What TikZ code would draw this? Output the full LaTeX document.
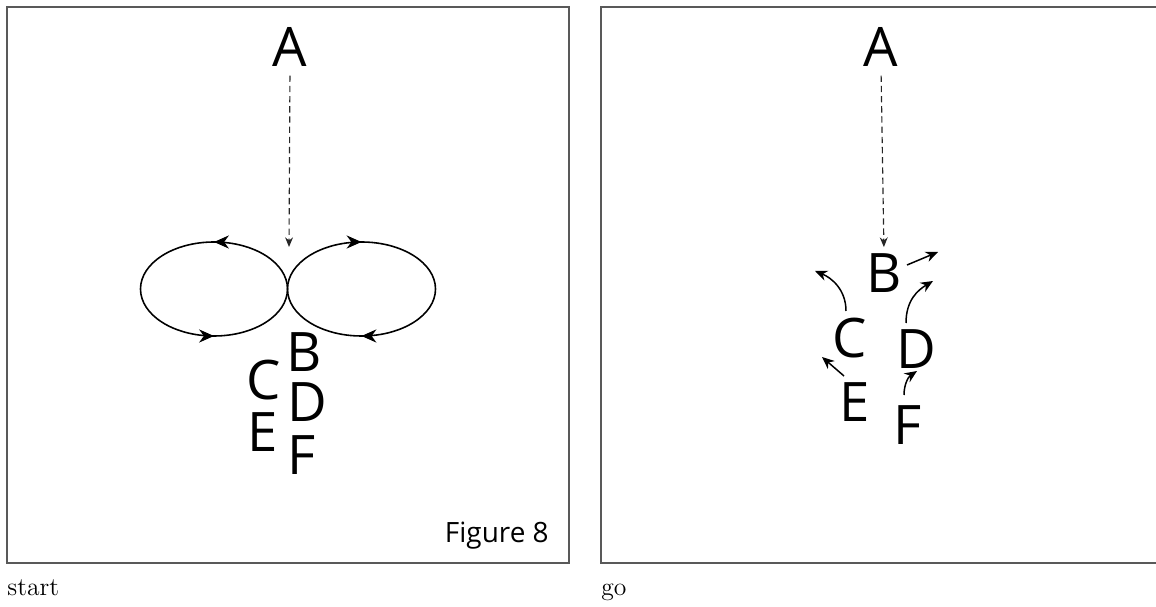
\documentclass[tikz,border=0pt]{standalone}
\usepackage{fontspec}
\newfontfamily\letterfont{Open Sans}
\usepackage{tikz}
\usetikzlibrary{arrows.meta, decorations.markings}

\begin{document}
\begin{tikzpicture}[x=0.02cm, y=-0.02cm,
    letter/.style={inner sep=0pt, font=\letterfont\fontsize{31}{31}\selectfont},
    panel/.style={draw=black!65, line width=1pt},
    droparrow/.style={-{Stealth[length=5.5pt, width=4.5pt]}, dashed,
      dash pattern=on 3.6pt off 2.2pt, line width=0.65pt, black!85},
    moveline/.style={-{Stealth[length=7pt, width=6pt]}, line width=0.85pt},
    loopline/.style={line width=0.9pt, postaction={decorate},
      decoration={markings,
        mark=at position 0.25 with {\arrow{Stealth[length=8.5pt, width=7.5pt]}},
        mark=at position 0.75 with {\arrow{Stealth[length=8.5pt, width=7.5pt]}}}}]
        \useasboundingbox (0,0) rectangle (1156,607);
        \clip (0,0) rectangle (1156,607);

        % the two panels
        \draw[panel] (7,7) rectangle (569,563);
        \draw[panel] (601,7) rectangle (1180,563);

        % start
        \node[letter] (A1) at (290,47) {A};
        \node[letter] (B1) at (304,352) {B};
        \node[letter] (C1) at (264,380) {C};
        \node[letter] (D1) at (307,402) {D};
        \node[letter] (E1) at (263,432) {E};
        \node[letter] (F1) at (302,455) {F};
        \coordinate (drop) at (289,247);
        \coordinate (touch) at (287.5,289);

        \draw[droparrow, shorten <=5pt] (A1.south) -- (drop);
        \draw[loopline] (touch) arc[start angle=0, end angle=-360,
          x radius=73.5, y radius=47];
        \draw[loopline] (touch) arc[start angle=180, end angle=540,
          x radius=74, y radius=47];

        \node[inner sep=0pt, anchor=base east,
              font=\letterfont\fontsize{15.9}{16}\selectfont]
          (figname) at (549,542) {Figure 8};

        % go
        \node[letter] (A2) at (881,47) {A};
        \node[letter] (B2) at (884,273) {B};
        \node[letter] (C2) at (850,338) {C};
        \node[letter] (D2) at (916,349) {D};
        \node[letter] (E2) at (855,402) {E};
        \node[letter] (F2) at (908,425) {F};

        \coordinate (bfrom) at (907,265);
        \coordinate (bto) at (938,252);
        \coordinate (cfrom) at (846,311);
        \coordinate (cto) at (815,271);
        \coordinate (dfrom) at (906,323);
        \coordinate (dto) at (933,281);
        \coordinate (efrom) at (844,376);
        \coordinate (eto) at (822,357);
        \coordinate (ffrom) at (904,395);
        \coordinate (fto) at (917,371);

        \draw[droparrow, shorten <=5pt, shorten >=3.5pt] (A2.south) -- (B2.north);
        \draw[moveline] (bfrom) -- (bto);
        \draw[moveline] (cfrom) .. controls (846,290) and (832,278) .. (cto);
        \draw[moveline] (dfrom) .. controls (906,300) and (918,290) .. (dto);
        \draw[moveline] (efrom) -- (eto);
        \draw[moveline] (ffrom) .. controls (904,385) and (908,377) .. (fto);

        % captions
        \node[inner sep=0pt, anchor=base west, font=\fontsize{14.6}{17}\selectfont]
          (startcap) at (7,595) {start};
        \node[inner sep=0pt, anchor=base west, font=\fontsize{14.6}{17}\selectfont]
          (gocap) at (601,595) {go};
      \end{tikzpicture}
\end{document}
